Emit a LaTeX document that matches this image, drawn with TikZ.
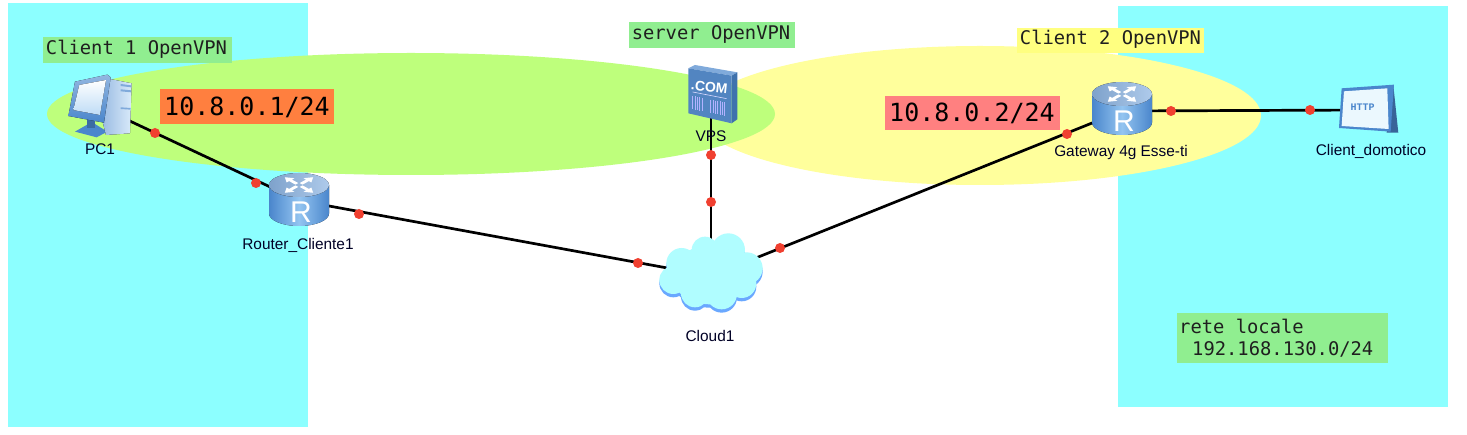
\documentclass[tikz,border=0pt]{standalone}
\usepackage{fontspec}
\setmainfont{Liberation Sans}
\newfontfamily\monof{DejaVu Sans Mono}
\newfontfamily\httpf{Liberation Mono}
\usetikzlibrary{calc}
\definecolor{lancyan}{HTML}{8CFFFF}
\definecolor{lime}{HTML}{BEFF7C}
\definecolor{paleyel}{HTML}{FFFF9C}
\definecolor{tagGreen}{HTML}{90EE90}
\definecolor{tagOrange}{HTML}{FF7F3F}
\definecolor{tagRed}{HTML}{FF8080}
\definecolor{tagYellow}{HTML}{FFFF80}
\definecolor{dotRed}{HTML}{F04030}
\definecolor{rtEdge}{HTML}{4A86CC}
\definecolor{rtMid}{HTML}{93C4F0}
\definecolor{rtTop}{HTML}{8CB4E2}
\tikzset{
  lanarea/.style={fill=lancyan,draw=none},
  tagtext/.style={font=\monof\fontsize{18.8}{24}\selectfont,text=black!88,inner sep=0pt,anchor=center},
  bigtag/.style={font=\monof\fontsize{25}{30}\selectfont,text=black,inner sep=0pt,anchor=center},
  captext/.style={font=\fontsize{15.4}{17}\selectfont,text=black!85!blue,inner sep=0pt},
  link/.style={draw=black,line width=2.7pt},
  rdot/.style={circle,fill=dotRed,draw=none,inner sep=0pt,minimum size=10pt},
  hub/.style={inner sep=0pt,minimum width=60pt,minimum height=53pt},
  routerpic/.pic={
    \fill[left color=rtEdge,right color=rtEdge,middle color=rtMid] (-30,-14.5) -- (-30,14) arc[x radius=30,y radius=12.5,start angle=180,end angle=0] -- (30,-14.5) -- cycle;
    \fill[left color=rtTop!90!black,right color=rtTop!70!white] (0,-14.5) ellipse[x radius=30,y radius=12];
    \foreach \r in {0,90,180,270}{
      \begin{scope}[shift={(0,-14.5)},yscale=.55,rotate=\r+45]
      \fill[white] (3,-2) -- (12,-2) -- (12,-5.5) -- (20,0) -- (12,5.5) -- (12,2) -- (3,2) -- cycle;
      \end{scope}}
    \node[text=white,font=\fontsize{30}{30}\selectfont,inner sep=0pt] at (2,13) {R};
  }
}
\begin{document}
\begin{tikzpicture}[x=1pt,y=-1pt]
\useasboundingbox (0,0) rectangle (1467,435);
\fill[white] (0,0) rectangle (1467,435);
% LAN areas
\path[lanarea] (8,3) rectangle (308,427);
\path[lanarea] (1118,6) rectangle (1448,407);
% tunnels
\fill[paleyel] (980,115.5) ellipse[x radius=281,y radius=69.5];
\fill[lime] (411,114) ellipse[x radius=364,y radius=61];
% icon anchor nodes
\node[hub] (pc) at (100,107) {};
\node[hub] (rc) at (299,200.5) {};
\node[hub] (vps) at (711,110) {};
\node[hub] (cloud) at (711,276) {};
\node[hub] (gw) at (1122,111) {};
\node[hub] (http) at (1369,110) {};
% connectors
\draw[link] (pc.center) -- (rc.center);
\draw[link] (rc.center) -- (cloud.center);
\draw[link] (cloud.center) -- (vps.center);
\draw[link] (cloud.center) -- (gw.center);
\draw[link] (gw.center) -- (http.center);
% cloud
\begin{scope}[shift={(630,220)},x=.3333pt,y=-.3333pt]
 \foreach \shiftv/\col in {10/6AA8FF,0/B0FDFF}{
  \definecolor{cc}{HTML}{\col}
  \fill[cc] (295,90+\shiftv) circle[radius=50];
  \fill[cc] (225,90+\shiftv) circle[radius=40];
  \fill[cc] (155,130+\shiftv) circle[radius=46];
  \fill[cc] (130,180+\shiftv) circle[radius=42];
  \fill[cc] (195,220+\shiftv) circle[radius=42];
  \fill[cc] (275,222+\shiftv) circle[radius=46];
  \fill[cc] (350,145+\shiftv) circle[radius=48];
  \fill[cc] (335,190+\shiftv) circle[radius=44];
  \fill[cc] (240,165+\shiftv) ellipse[x radius=115,y radius=88];
 }
 \fill[rtMid!30!cyan!30!white] (295,90) circle[radius=0];
\end{scope}
% routers
\path ($(rc.center)+(0,-1)$) pic {routerpic};
\path ($(gw.center)+(0,-2.5)$) pic {routerpic};
% PC
\begin{scope}[x=.3333pt,y=-.3333pt]
 \fill[rtEdge] (225,395) -- (265,372) -- (285,372) -- (322,395) -- (290,412) -- cycle;
 \fill[rtEdge!80!black] (262,345) rectangle (285,385);
 \fill[left color=rtEdge!55!white,right color=rtMid!35!white] (330,237) -- (395,250) -- (390,400) -- (318,405) -- (308,365) -- cycle;
 \fill[top color=rtEdge!60!white,bottom color=rtEdge] (225,245) -- (322,224) -- (332,232) -- (312,368) -- (205,348) -- cycle;
 \fill[top color=white,bottom color=rtMid!60!white] (238,255) -- (318,240) -- (300,345) -- (220,330) -- cycle;
 \fill[rtEdge!70!white] (362,252) -- (393,256) -- (393,262) -- (362,258) -- cycle;
 \fill[rtEdge!70!white] (362,268) -- (393,271) -- (393,277) -- (362,274) -- cycle;
 \fill[rtEdge!70!white] (362,322) -- (392,324) -- (392,329) -- (362,327) -- cycle;
\end{scope}
% VPS
\begin{scope}[shift={(600,10)},x=.3333pt,y=-.3333pt]
 \fill[rtEdge!70!white] (265,175) -- (285,165) -- (412,187) -- (395,197) -- cycle;
 \fill[rtEdge!85!black] (395,197) -- (412,187) -- (412,328) -- (395,340) -- cycle;
 \fill[rtEdge!85!gray] (265,175) -- (395,197) -- (395,340) -- (265,310) -- cycle;
 \node[text=white,font=\bfseries\fontsize{14}{14}\selectfont,inner sep=0pt,rotate=-6] at (328,231) {.COM};
 \draw[white!85!blue,line width=.6pt] (278,246) -- (380,266);
 \foreach \x in {278,285,292,299,306,332,339,346,353,360,367,374}
   \draw[white!70!blue,line width=.7pt] (\x,{258+\x*.2-55.6}) -- (\x,{298+\x*.2-55.6});
\end{scope}
% HTTP client
\begin{scope}[shift={(1040,60)},x=.3333pt,y=-.3333pt]
 \fill[rtEdge!75!black] (1060,75) -- (1075,218) -- (1040,218) -- cycle;
 \fill[rtEdge] (905,85) -- (1062,74) -- (1052,215) -- (897,204) -- cycle;
 \fill[white!92!cyan] (912,94) -- (1042,85) -- (1046,207) -- (905,198) -- cycle;
 \node[text=rtEdge,font=\httpf\bfseries\fontsize{10}{10}\selectfont,inner sep=0pt] at (968,142) {HTTP};
\end{scope}
% captions
\node[captext] (capPC) at (100,149) {PC1};
\node[captext] (capRC) at (298,245) {Router\_Cliente1};
\node[captext] (capVPS) at (711,136) {VPS};
\node[captext] (capCloud) at (710,336) {Cloud1};
\node[captext] (capGW) at (1121,153) {Gateway 4g Esse-ti};
\node[captext] (capHTTP) at (1371,151) {Client\_domotico};
% tags
\fill[tagGreen] (43,37) rectangle (232,63);
\node[tagtext] (t1) at (136.5,49.5) {Client 1 OpenVPN};
\fill[tagGreen] (629,22) rectangle (795,48);
\node[tagtext] (t2) at (711,34.5) {server OpenVPN};
\fill[tagYellow] (1017,28) rectangle (1204,53);
\node[tagtext] (t3) at (1110.5,39.5) {Client 2 OpenVPN};
\fill[tagOrange] (160,89) rectangle (334,124);
\node[bigtag] (t4) at (247,107) {10.8.0.1/24};
\fill[tagRed] (885,96) rectangle (1060,130);
\node[bigtag] (t5) at (972,113) {10.8.0.2/24};
\fill[tagGreen] (1177,313) rectangle (1388,363);
\node[tagtext,anchor=west] (t6) at (1179,326) {rete locale};
\node[tagtext,anchor=west] (t7) at (1192,349) {192.168.130.0/24};
% link dots
\foreach \n/\x/\y in {a/155/133,b/256/183,c/359/214,d/638/263,e/711/155,f/711/202,g/780/248,h/1067/134,i/1171/111,j/1310/110}
  \node[rdot] (dot\n) at (\x,\y) {};
\end{tikzpicture}
\end{document}
